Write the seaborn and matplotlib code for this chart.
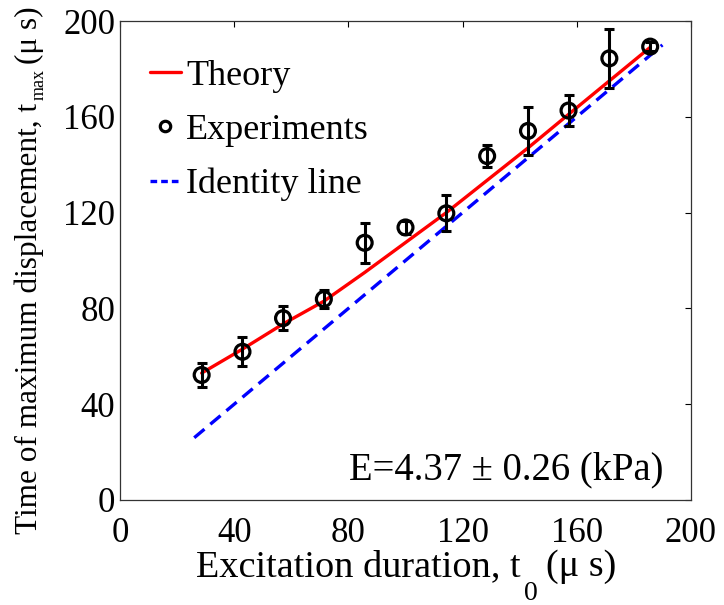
import matplotlib
matplotlib.use("Agg")
import matplotlib.pyplot as plt
from matplotlib.lines import Line2D
import seaborn as sns
import pandas as pd

# Data
exp_x = [28.6, 42.9, 57.1, 71.4, 85.7, 100.0, 114.3, 128.6, 142.9, 157.1, 171.4, 185.7]
exp_y = [52.2, 61.9, 75.9, 83.9, 107.4, 113.8, 119.7, 143.6, 154.1, 162.6, 184.4, 189.3]
exp_err = [4.9, 6.0, 5.0, 3.8, 8.3, 2.8, 7.5, 4.7, 10.0, 6.6, 12.4, 2.0]

theory_x = [28.6, 42.9, 57.1, 71.4, 85.7, 100.0, 114.3, 128.6, 142.9, 157.1, 171.4, 185.7]
theory_y = [53.0, 63.0, 73.5, 83.0, 95.0, 107.5, 120.0, 133.5, 147.0, 161.0, 175.0, 189.0]

identity_x = [26.0, 190.0]
identity_y = [26.0, 190.0]

x_ticks = [0, 40, 80, 120, 160, 200]
y_ticks = [0, 40, 80, 120, 160, 200]

legend_labels = ["Theory", "Experiments", "Identity line"]
annotation = "E=4.37 ± 0.26 (kPa)"

W, H = 724, 605

sns.set_style("white")
plt.rcParams['font.family'] = ['Liberation Serif', 'DejaVu Serif']
plt.rcParams['text.color'] = 'black'
plt.rcParams['axes.labelcolor'] = 'black'
plt.rcParams['xtick.color'] = 'black'
plt.rcParams['ytick.color'] = 'black'

fig = plt.figure(figsize=(W / 100, H / 100), dpi=100)
ax = fig.add_axes([120 / W, 1 - 500 / H, 571 / W, 479 / H])

df_theory = pd.DataFrame({"x": theory_x, "y": theory_y})
df_id = pd.DataFrame({"x": identity_x, "y": identity_y})
df_exp = pd.DataFrame({"x": exp_x, "y": exp_y, "err": exp_err})

sns.lineplot(data=df_theory, x="x", y="y", ax=ax, color="#ff0000", lw=2.4,
             legend=False, zorder=2)
ax.errorbar(df_exp["x"], df_exp["y"], yerr=df_exp["err"], fmt="none",
            ecolor="black", elinewidth=2.2, capsize=3.5, capthick=2.2, zorder=3)
sns.scatterplot(data=df_exp, x="x", y="y", ax=ax, marker="o", s=115,
                facecolor="none", edgecolor="black", linewidth=2.3,
                legend=False, zorder=4)
sns.lineplot(data=df_id, x="x", y="y", ax=ax, color="#0000ff", lw=2.4,
             linestyle=(0, (4, 2.3)), legend=False, zorder=2)

ax.set_xlim(0, 200)
ax.set_ylim(0, 200)
ax.set_xticks(x_ticks)
ax.set_yticks(y_ticks)
ax.tick_params(direction="in", length=4, width=0.8, top=True, right=True,
               labelsize=25, colors="black")
ax.tick_params(axis="x", pad=12.5)
ax.tick_params(axis="y", pad=3.5)
for s in ax.spines.values():
    s.set_color("#333333")
    s.set_linewidth(0.9)
ax.set_xlabel("")
ax.set_ylabel("")

ax.text(190.2, 8.8, annotation, fontsize=27.8, ha="right", va="baseline",
        color="black")

handles = [
    Line2D([], [], color="#ff0000", lw=2.4),
    Line2D([], [], color="black", marker="o", ls="none", markersize=7.5,
           markerfacecolor="none", markeredgewidth=2.3),
    Line2D([], [], color="#0000ff", lw=2.4, ls=(0, (2.0, 1.2))),
]
leg = ax.legend(handles, legend_labels, loc="upper left", frameon=False, fontsize=26,
                handlelength=0.85, handletextpad=0.15, labelspacing=0.58,
                borderpad=0, borderaxespad=0, bbox_to_anchor=(30 / 571, 0.92))
for t in leg.get_texts():
    t.set_color("black")

# Axis labels built from pieces (large offset subscripts)
renderer = fig.canvas.get_renderer()


def hlabel(pieces, center_px):
    texts = []
    for txt, fs, base_py, gap in pieces:
        t = fig.text(0, 1 - base_py / H, txt, fontsize=fs, ha="left", va="baseline",
                     color="black")
        texts.append((t, gap))
    widths = [t.get_window_extent(renderer).width for t, _ in texts]
    total = sum(widths) + sum(g for _, g in texts)
    x = center_px - total / 2
    for (t, gap), w in zip(texts, widths):
        x += gap
        t.set_x(x / W)
        x += w


def vlabel(pieces, center_py):
    texts = []
    for txt, fs, base_px, gap in pieces:
        t = fig.text(base_px / W, 0, txt, fontsize=fs, ha="left", va="baseline",
                     rotation=90, rotation_mode="anchor", color="black")
        texts.append((t, gap))
    lens = [t.get_window_extent(renderer).height for t, _ in texts]
    total = sum(lens) + sum(g for _, g in texts)
    y = center_py + total / 2
    for (t, gap), L in zip(texts, lens):
        y -= gap
        t.set_y(1 - y / H)
        y -= L


hlabel([("Excitation duration, t", 27.5, 576, 0),
        ("0", 20, 600, 3),
        ("(μ s)", 27.5, 576, 8)], 406)

vlabel([("Time of maximum displacement, t", 22.5, 37, 0),
        ("max", 13, 44, 3),
        ("(μ s)", 22.5, 37, 5)], 270)

fig.savefig("out.png", dpi=100)
